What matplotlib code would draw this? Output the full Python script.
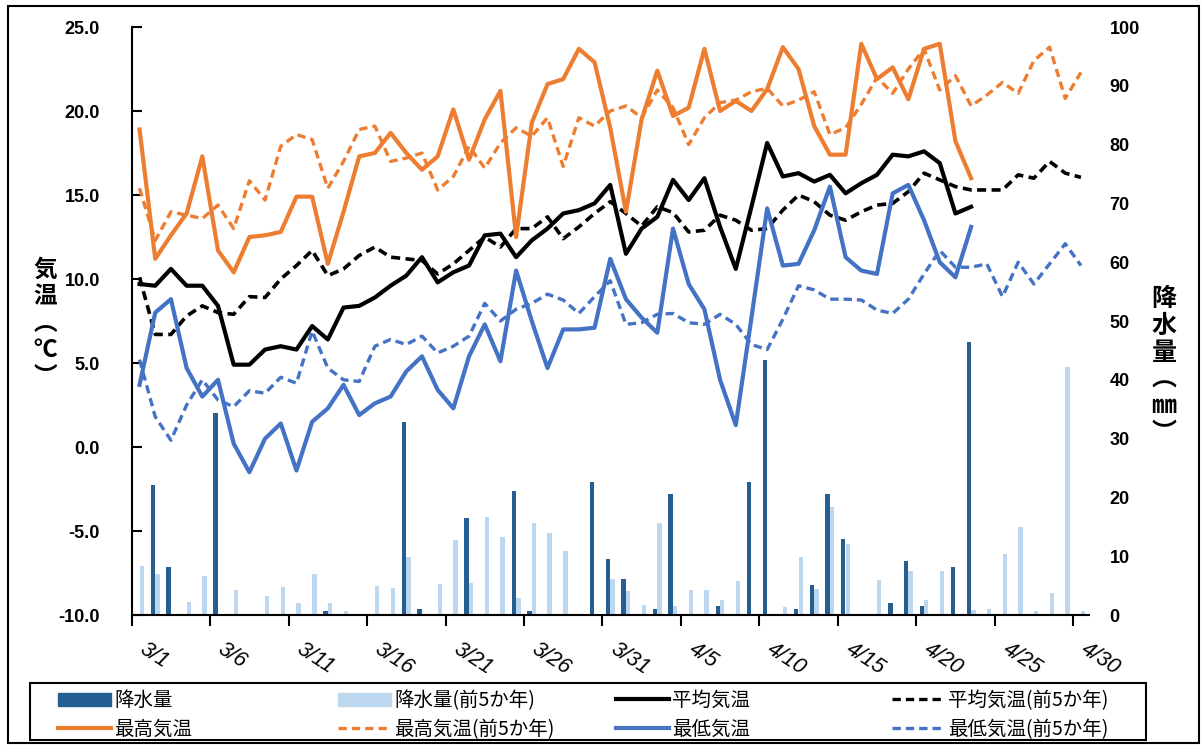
import numpy as np
import matplotlib
matplotlib.use("Agg")
import matplotlib.pyplot as plt
from matplotlib.patches import Patch, Rectangle
from matplotlib.lines import Line2D
from matplotlib.transforms import ScaledTranslation

plt.rcParams['font.family'] = ['Liberation Sans', 'Noto Sans CJK JP', 'DejaVu Sans']
JP = ['Noto Sans CJK JP', 'DejaVu Sans']

# --- data: 3/1 .. 4/30 (61 days), current year up to 4/23 ---
tick_labels = ['3/1', '3/6', '3/11', '3/16', '3/21', '3/26', '3/31',
               '4/5', '4/10', '4/15', '4/20', '4/25', '4/30']

prcp = [0, 22.1, 8.1, 0, 0, 34.4, 0, 0, 0, 0,
        0, 0, 0.6, 0, 0, 0, 0, 32.9, 1.0, 0,
        0, 16.5, 0, 0, 21.1, 0.6, 0, 0, 0, 22.6,
        9.5, 6.1, 0, 1.0, 20.6, 0, 0, 1.5, 0, 22.6,
        43.4, 0, 1.0, 5.1, 20.6, 13.0, 0, 0, 2.1, 9.1,
        1.5, 0, 8.1, 46.4]
prcp5 = [8.4, 6.9, 0, 2.2, 6.6, 0, 4.25, 0, 3.2, 4.8,
         2.0, 6.9, 2.0, 0.6, 0, 4.9, 4.65, 9.9, 0, 5.3,
         12.8, 5.5, 16.7, 13.2, 2.9, 15.6, 13.9, 10.9, 0, 0,
         6.2, 4.1, 1.7, 15.7, 1.5, 4.25, 4.25, 2.55, 5.8, 0,
         0, 1.4, 9.9, 4.4, 18.3, 12.1, 0, 5.95, 0, 7.4,
         2.55, 7.5, 0, 0.85, 0.97, 10.4, 14.9, 0.7, 3.7, 42.1,
         0.7]

avg_t = [9.7, 9.6, 10.6, 9.6, 9.6, 8.4, 4.9, 4.9, 5.8, 6.0,
         5.8, 7.2, 6.4, 8.3, 8.4, 8.9, 9.6, 10.2, 11.3, 9.8,
         10.4, 10.8, 12.6, 12.7, 11.3, 12.3, 13.0, 13.9, 14.1, 14.5,
         15.6, 11.5, 13.0, 13.7, 15.9, 14.7, 16.0, 13.1, 10.6, 14.3,
         18.1, 16.1, 16.3, 15.8, 16.2, 15.1, 15.7, 16.2, 17.4, 17.3,
         17.6, 16.9, 13.9, 14.3]
avg5 = [10.1, 6.7, 6.7, 7.8, 8.4, 8.0, 7.9, 8.95, 8.9, 10.0,
        10.8, 11.7, 10.2, 10.6, 11.4, 11.9, 11.3, 11.2, 11.1, 10.3,
        10.9, 11.7, 12.5, 11.9, 13.0, 13.0, 13.7, 12.4, 13.1, 13.9,
        14.6, 13.9, 13.15, 14.3, 13.95, 12.8, 12.9, 13.8, 13.5, 12.9,
        13.0, 14.1, 15.0, 14.6, 13.8, 13.5, 14.0, 14.4, 14.5, 15.2,
        16.3, 15.9, 15.5, 15.3, 15.3, 15.3, 16.2, 16.0, 17.0, 16.3,
        16.05]

max_t = [18.9, 11.2, 12.6, 13.9, 17.3, 11.7, 10.4, 12.5, 12.6, 12.8,
         14.9, 14.9, 10.9, 14.0, 17.3, 17.5, 18.7, 17.5, 16.5, 17.3,
         20.1, 17.1, 19.5, 21.2, 12.5, 19.3, 21.6, 21.9, 23.7, 22.9,
         19.0, 14.0, 19.5, 22.4, 19.7, 20.2, 23.7, 20.0, 20.6, 20.0,
         21.3, 23.8, 22.5, 19.1, 17.4, 17.4, 24.0, 21.9, 22.6, 20.7,
         23.7, 24.0, 18.2, 16.0]
max5 = [15.4, 12.3, 14.0, 13.8, 13.6, 14.4, 13.0, 15.85, 14.7, 17.9,
        18.6, 18.3, 15.4, 17.0, 18.9, 19.1, 17.0, 17.2, 17.5, 15.3,
        16.1, 17.9, 16.6, 18.1, 19.0, 18.5, 19.6, 16.7, 19.6, 19.1,
        20.0, 20.3, 19.6, 21.25, 20.2, 18.0, 19.6, 20.5, 20.65, 21.15,
        21.35, 20.3, 20.65, 21.15, 18.6, 19.0, 20.4, 22.0, 21.05, 22.5,
        23.7, 21.25, 22.1, 20.3, 20.95, 21.7, 21.05, 23.0, 23.8, 20.75,
        22.3]

min_t = [3.7, 8.0, 8.8, 4.7, 3.0, 4.0, 0.2, -1.5, 0.5, 1.4,
         -1.4, 1.5, 2.3, 3.7, 1.9, 2.6, 3.0, 4.5, 5.4, 3.4,
         2.3, 5.4, 7.3, 5.1, 10.5, 7.5, 4.7, 7.0, 7.0, 7.1,
         11.2, 8.8, 7.7, 6.8, 13.0, 9.7, 8.2, 4.0, 1.3, 7.7,
         14.2, 10.8, 10.9, 12.9, 15.5, 11.3, 10.5, 10.3, 15.1, 15.6,
         13.5, 11.0, 10.1, 13.1]
min5 = [5.2, 1.8, 0.4, 2.5, 4.0, 2.8, 2.4, 3.35, 3.2, 4.15,
        3.8, 6.9, 4.7, 4.0, 3.9, 6.0, 6.4, 6.1, 6.6, 5.6,
        6.0, 6.6, 8.55, 7.5, 8.2, 8.55, 9.1, 8.75, 7.95, 8.95,
        9.9, 7.3, 7.4, 7.9, 7.95, 7.4, 7.3, 7.9, 7.3, 6.1,
        5.8, 7.6, 9.6, 9.35, 8.8, 8.8, 8.75, 8.15, 7.95, 8.8,
        10.3, 11.7, 10.7, 10.7, 10.9, 8.95, 11.0, 9.7, 10.9, 12.1,
        10.8]

DARK = '#255E91'
LIGHT = '#BDD7EE'
ORANGE = '#ED7D31'
BLUE = '#4472C4'

x_now = np.arange(len(max_t))
x_5y = np.arange(len(max5))

fig = plt.figure(figsize=(12.03, 7.45), dpi=100)
ax = fig.add_axes([131.7/1203, 1-615/745, (1088.8-131.7)/1203, (615-27)/745])
axp = ax.twinx()
ax.set_zorder(axp.get_zorder() + 1)
ax.patch.set_visible(False)

# precipitation bars (right axis)
axp.bar(x_now - 0.15, prcp, width=0.28, color=DARK, zorder=2)
axp.bar(x_5y + 0.14, prcp5, width=0.28, color=LIGHT, zorder=1)
axp.set_ylim(0, 100)
axp.set_yticks(np.arange(0, 101, 10))
for s in axp.spines.values():
    s.set_visible(False)
axp.tick_params(axis='y', length=0, pad=15, labelsize=13)
for lab in axp.get_yticklabels():
    lab.set_fontweight('bold')

# temperature lines (left axis)
dash = (0, (2.5, 1.5))
ax.plot(x_5y, avg5, color='black', lw=2.6, ls=dash)
ax.plot(x_5y, max5, color=ORANGE, lw=2.4, ls=dash)
ax.plot(x_5y, min5, color=BLUE, lw=2.4, ls=dash)
ax.plot(x_now, max_t, color=ORANGE, lw=3.0)
ax.plot(x_now, avg_t, color='black', lw=3.0)
ax.plot(x_now, min_t, color=BLUE, lw=3.0)

ax.set_xlim(-0.5, 60.5)
ax.set_ylim(-10, 25)
ax.set_yticks(np.arange(-10, 25.1, 5))
ax.set_yticklabels([f'{v:.1f}' for v in np.arange(-10, 25.1, 5)], fontweight='bold', fontsize=13)
ax.tick_params(axis='y', direction='in', length=7, width=1.5, pad=23)
ax.set_xticks(np.arange(-0.5, 60, 5))
ax.set_xticklabels(tick_labels, rotation=-33, ha='left', va='top',
                   fontsize=15.5, style='italic', rotation_mode='default')
ax.tick_params(axis='x', direction='out', length=8, width=1.5, pad=9)
offset = ScaledTranslation(0.04, 0, fig.dpi_scale_trans)
for lab in ax.get_xticklabels():
    lab.set_transform(lab.get_transform() + offset)
ax.spines['top'].set_visible(False)
ax.spines['right'].set_visible(False)
ax.spines['left'].set_linewidth(1.5)
ax.spines['bottom'].set_linewidth(1.5)

# vertical axis titles
fig.text(45/1203, 1-323/745, '\n'.join('気温︵℃︶'), family=JP, fontsize=17,
         fontweight='bold', ha='center', va='center', linespacing=1.15)
fig.text(1164/1203, 1-366/745, '\n'.join('降水量︵㎜︶'), family=JP, fontsize=18,
         fontweight='bold', ha='center', va='center', linespacing=1.15)

# legend: four columns of two rows, inside one box
legend_cols = [
    (58, [Patch(color=DARK, label='降水量'),
          Line2D([], [], color=ORANGE, lw=3.0, label='最高気温')]),
    (338, [Patch(color=LIGHT, label='降水量(前5か年)'),
           Line2D([], [], color=ORANGE, lw=2.4, ls=dash, label='最高気温(前5か年)')]),
    (616, [Line2D([], [], color='black', lw=3.0, label='平均気温'),
           Line2D([], [], color=BLUE, lw=3.0, label='最低気温')]),
    (892, [Line2D([], [], color='black', lw=2.4, ls=dash, label='平均気温(前5か年)'),
           Line2D([], [], color=BLUE, lw=2.4, ls=dash, label='最低気温(前5か年)')]),
]
for xpos, hs in legend_cols:
    fig.legend(handles=hs, loc='center left', bbox_to_anchor=(xpos/1203, 1-715/745),
               prop={'family': JP, 'size': 14}, frameon=False,
               handlelength=2.7, handletextpad=0.2, borderpad=0, borderaxespad=0,
               labelspacing=0.4)
fig.add_artist(Rectangle((30/1203, 1-740/745), 1116/1203, 57/745,
                         transform=fig.transFigure, fill=False, lw=1.5, ec='black'))

# outer border
fig.add_artist(Rectangle((8/1203, 1-743/745), 1191/1203, 737/745,
                         transform=fig.transFigure, fill=False, lw=1.5, ec='black'))

fig.savefig('out.png', dpi=100)
